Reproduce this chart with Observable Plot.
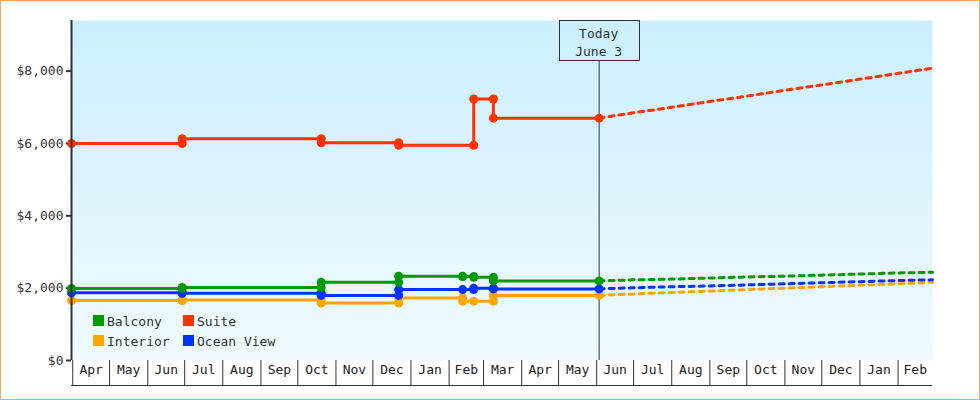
<!DOCTYPE html>
<html><head><meta charset="utf-8">
<script src="https://cdn.jsdelivr.net/npm/d3@7"></script>
<script src="https://cdn.jsdelivr.net/npm/@observablehq/plot@0.6"></script>
<style>
html,body{margin:0;padding:0;background:#fff;}
#wrap{position:relative;width:980px;height:400px;overflow:hidden;background:#fff;}
#border{position:absolute;left:0;top:0;width:978px;height:398px;border:1px solid #eeaa66;pointer-events:none;}
svg{display:block;}
</style></head><body>
<div id="wrap"><div id="chart"></div><div id="border"></div></div>
<script>
// ---- data ----
const seriesNames = ["Interior", "Ocean View", "Balcony", "Suite"];
const seriesColors = ["#ffa500", "#0033ff", "#009900", "#ff3300"];
const legendOrder = ["Balcony", "Suite", "Interior", "Ocean View"];

const changeDates = ["2012-03-31","2012-06-29","2012-10-20","2012-12-22","2013-02-12","2013-02-21","2013-03-09","2013-06-03"];
const balconyBefore  = [1990, 1990, 2020, 2160, 2330, 2320, 2300, 2200];
const balconyAfter   = [1990, 2020, 2160, 2330, 2320, 2300, 2200, 2200];
const interiorBefore = [1660, 1660, 1670, 1590, 1730, 1640, 1640, 1800];
const interiorAfter  = [1660, 1670, 1590, 1730, 1640, 1640, 1800, 1800];
const oceanBefore    = [1870, 1870, 1860, 1800, 1960, 1960, 1995, 1980];
const oceanAfter     = [1870, 1860, 1800, 1960, 1960, 1995, 1980, 1980];
const suiteBefore    = [6000, 6000, 6130, 6020, null, 5950, 7230, 6700];
const suiteAfter     = [6000, 6130, 6020, 5950, null, 7230, 6700, 6700];

const projDates = ["2013-06-03","2013-07-01","2013-08-01","2013-09-01","2013-10-01","2013-11-01","2013-12-01","2014-01-01","2014-02-01","2014-03-01"];
const balconyProj  = [2200, 2230, 2250, 2280, 2310, 2330, 2360, 2390, 2420, 2440];
const interiorProj = [1800, 1840, 1880, 1920, 1960, 2000, 2040, 2080, 2120, 2160];
const oceanProj    = [1980, 2010, 2040, 2060, 2090, 2120, 2150, 2180, 2210, 2230];
const suiteProj    = [6700, 6850, 7000, 7160, 7310, 7470, 7620, 7780, 7940, 8080];

const todayDate = "2013-06-03";
const todayLabel = ["Today", "June 3"];
const xDomain = ["2012-03-31", "2014-03-01"];
const yDomain = [0, 9400];
const yTicks = [0, 2000, 4000, 6000, 8000];
const monthStarts = ["2012-04-01","2012-05-01","2012-06-01","2012-07-01","2012-08-01","2012-09-01","2012-10-01","2012-11-01","2012-12-01","2013-01-01","2013-02-01","2013-03-01","2013-04-01","2013-05-01","2013-06-01","2013-07-01","2013-08-01","2013-09-01","2013-10-01","2013-11-01","2013-12-01","2014-01-01","2014-02-01"];
const monthLabels = ["Apr","May","Jun","Jul","Aug","Sep","Oct","Nov","Dec","Jan","Feb","Mar","Apr","May","Jun","Jul","Aug","Sep","Oct","Nov","Dec","Jan","Feb"];

// ---- build tables ----
const D = s => new Date(s);
const series = {
  "Balcony":    {before: balconyBefore, after: balconyAfter, proj: balconyProj},
  "Interior":   {before: interiorBefore, after: interiorAfter, proj: interiorProj},
  "Ocean View": {before: oceanBefore, after: oceanAfter, proj: oceanProj},
  "Suite":      {before: suiteBefore, after: suiteAfter, proj: suiteProj}
};
const hist = [], proj = [];
for (const name of seriesNames) {
  const s = series[name];
  changeDates.forEach((d, i) => {
    if (s.before[i] == null) return;
    hist.push({name, date: D(d), value: s.before[i]});
    if (s.after[i] !== s.before[i]) hist.push({name, date: D(d), value: s.after[i]});
  });
  projDates.forEach((d, i) => proj.push({name, date: D(d), value: s.proj[i]}));
}
const starts = monthStarts.map(D);
const ends = starts.slice(1).concat([D(xDomain[1])]);
const mids = starts.map((s, i) => new Date((+s + +ends[i]) / 2));
const labelData = mids.map((m, i) => ({date: m, label: monthLabels[i]}));

const FONT = "DejaVu Sans Mono";
const plot = Plot.plot({
  width: 980, height: 400,
  marginLeft: 71, marginRight: 48, marginTop: 20, marginBottom: 40,
  style: {fontFamily: FONT, fontSize: "13px", color: "#333", background: "transparent"},
  x: {type: "utc", domain: xDomain.map(D)},
  y: {domain: yDomain},
  color: {domain: seriesNames, range: seriesColors},
  marks: [
    Plot.frame({fill: "url(#bgGrad)", stroke: "none"}),
    Plot.axisY({ticks: yTicks, tickFormat: d => "$" + d3.format(",")(d), tickSize: 5, tickPadding: 3, strokeWidth: 2, stroke: "#333", fill: "#333", fontSize: 13, label: null}),
    Plot.axisX({ticks: starts, tickSize: 25, tickFormat: () => "", stroke: "#333", label: null}),
    Plot.text(labelData, {x: "date", text: "label", frameAnchor: "bottom", dy: 13, fontSize: 13, fill: "#222"}),
    Plot.ruleY([0], {dy: 25, stroke: "#333"}),
    Plot.ruleX([D(todayDate)], {stroke: "#333", strokeWidth: 1}),
    Plot.line(proj, {x: "date", y: "value", z: "name", stroke: "name", strokeWidth: 3, strokeDasharray: "5,5"}),
    Plot.line(hist, {x: "date", y: "value", z: "name", stroke: "name", strokeWidth: 3, curve: "linear"}),
    Plot.dot(hist, {x: "date", y: "value", fill: "name", r: 4.5}),
    Plot.ruleX([D(xDomain[0])], {stroke: "#333", strokeWidth: 2})
  ]
});
document.getElementById("chart").appendChild(plot);

const svg = d3.select(plot);
const defs = svg.insert("defs", ":first-child");
const grad = defs.append("linearGradient").attr("id", "bgGrad")
  .attr("gradientUnits", "userSpaceOnUse").attr("x1", 0).attr("x2", 0).attr("y1", 20).attr("y2", 360);
grad.append("stop").attr("offset", 0).attr("stop-color", "#cbeffd");
grad.append("stop").attr("offset", 1).attr("stop-color", "#f0faff");

// Today annotation box
const xs = plot.scale("x").apply(D(todayDate));
const ann = svg.append("g").attr("font-family", FONT).attr("font-size", 13).attr("fill", "#333");
ann.append("rect").attr("x", Math.round(xs) - 40 + 0.5).attr("y", 20.5).attr("width", 80).attr("height", 40)
  .attr("fill", "url(#bgGrad)").attr("stroke", "#333");
todayLabel.forEach((t, i) => ann.append("text").attr("x", xs).attr("y", 33 + i * 18)
  .attr("text-anchor", "middle").attr("dominant-baseline", "central").text(t));

// Legend
const colorOf = n => seriesColors[seriesNames.indexOf(n)];
const lg = svg.append("g").attr("font-family", FONT).attr("font-size", 13).attr("fill", "#333").attr("text-anchor", "start");
legendOrder.forEach((n, i) => {
  const col = i % 2, row = Math.floor(i / 2);
  const x0 = 93 + col * 90, y0 = 315 + row * 20;
  lg.append("rect").attr("x", x0).attr("y", y0).attr("width", 11).attr("height", 11).attr("fill", colorOf(n));
  lg.append("text").attr("x", x0 + 14).attr("y", y0 + 6).attr("text-anchor", "start").attr("dominant-baseline", "central").text(n);
});
</script>
</body></html>
